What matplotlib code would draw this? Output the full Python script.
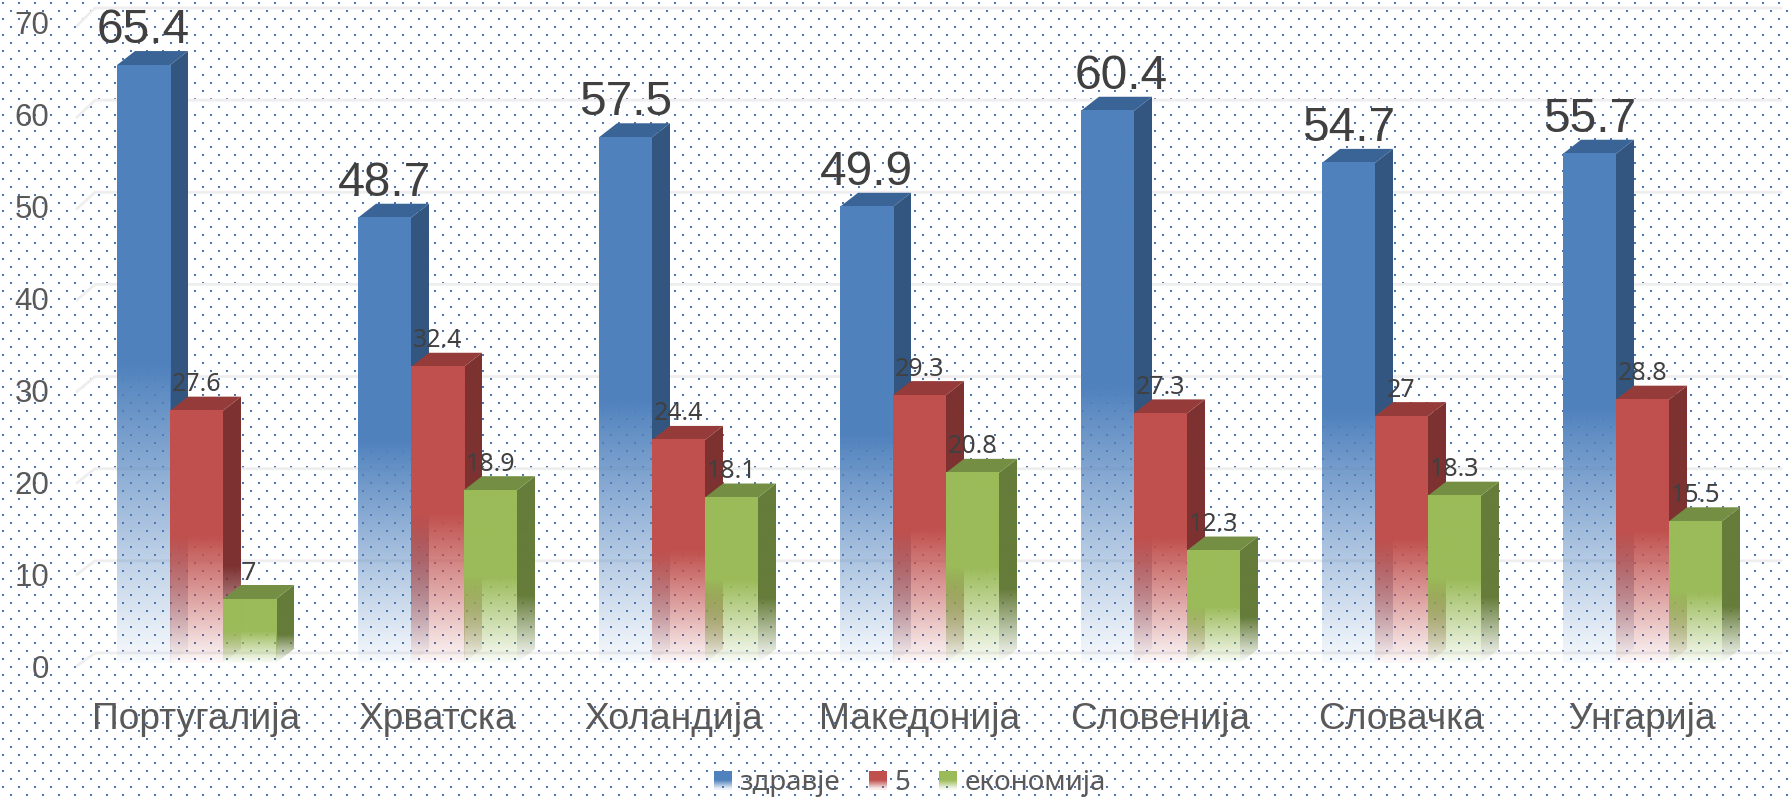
# Grouped pseudo-3D bars with faded bottoms on a dotted background
import numpy as np
import matplotlib
matplotlib.use("Agg")
import matplotlib.pyplot as plt
from matplotlib.colors import to_rgb
from matplotlib.legend_handler import HandlerBase
from matplotlib.patches import Polygon, Rectangle
from matplotlib.transforms import ScaledTranslation

# ------------------------------------------------------------------
# Data
countries = ["Португалија", "Хрватска", "Холандија", "Македонија", "Словенија", "Словачка", "Унгарија"]
zdravje = [65.4, 48.7, 57.5, 49.9, 60.4, 54.7, 55.7]
pet = [27.6, 32.4, 24.4, 29.3, 27.3, 27, 28.8]
ekonomija = [7, 18.9, 18.1, 20.8, 12.3, 18.3, 15.5]
series_names = ["здравје", "5", "економија"]
y_ticks = [0, 10, 20, 30, 40, 50, 60, 70]

# ------------------------------------------------------------------
# Style
W, H = 1788, 798
front_cols = ["#4F81BD", "#C0504D", "#9BBB59"]
side_cols = ["#335680", "#7D3231", "#667C3A"]
top_cols = ["#3A6396", "#953B39", "#748F44"]
label_sizes = [34.5, 18, 18]
bar_w = 53 / 241
depth_x = 18 / 241
depth_y = 14 / 9.14
wall_left = (77 - 196.5) / 241
wall_right = (1781 - 196.5) / 241
# the 60.4 label was moved by hand in the original
label_shift = {(4, 0): 0.058}

fig = plt.figure(figsize=(W / 100, H / 100), dpi=100, facecolor="white")

# dotted background, one tile of 16x16 pixels
tile = np.zeros((16, 16, 4))
tile[2:4, 2:4] = tile[10:12, 10:12] = to_rgb("#4A76B5") + (1,)
dots = np.tile(tile, (H // 16 + 1, W // 16 + 1, 1))[:H, :W]
fig.figimage(dots, 0, 0, zorder=-1, origin="upper")

ax = fig.add_axes([56 / W, 1 - 663 / H, (1781 - 56) / W, 640 / H])
ax.patch.set_visible(False)
for s in ax.spines.values():
    s.set_visible(False)


def fade(n, end, low):
    # opacity from the bottom of a bar up to the point where it is solid
    t = np.linspace(0, 1, n)
    return np.clip(low + (1 - low) * t / end, 0, 1)


def gradient(color, alpha):
    img = np.ones((len(alpha), 1, 4))
    img[:, :, :3] = to_rgb(color)
    img[:, :, 3] = alpha.reshape(-1, 1)
    return img


def draw_bar(i, v, k):
    x0 = i - 1.5 * bar_w + k * bar_w
    x1 = x0 + bar_w
    # side face
    side = Polygon([(x1, 0), (x1 + depth_x, depth_y), (x1 + depth_x, v + depth_y), (x1, v)],
                   transform=ax.transData, fc="none", ec="none")
    ax.add_patch(side)
    im = ax.imshow(gradient(side_cols[k], fade(256, 0.36, 0)), origin="lower", aspect="auto",
                   extent=[x1, x1 + depth_x, 0, v + depth_y], zorder=3 + k)
    im.set_clip_path(side)
    # top face
    ax.add_patch(Polygon([(x0, v), (x1, v), (x1 + depth_x, v + depth_y), (x0 + depth_x, v + depth_y)],
                         fc=top_cols[k], ec="none", zorder=3 + k))
    # front face
    ax.imshow(gradient(front_cols[k], fade(256, 0.5, 0.04)), origin="lower", aspect="auto",
              extent=[x0, x1, 0, v], zorder=3.5 + k)
    ax.text(x0 + bar_w / 2 + label_shift.get((i, k), 0), v + depth_y + (0.9 if k == 0 else 0.6), f"{v:g}",
            ha="center", va="baseline", fontsize=label_sizes[k], color="#404040", zorder=8, clip_on=False,
            family="Liberation Sans" if k == 0 else "Noto Sans")


# back wall grid lines, the wall is drawn a little taller than the bars
for t in y_ticks:
    back = t + 1.1 + 0.0077 * t
    ax.plot([wall_left, wall_left + depth_x, wall_right], [t - 0.3, back, back],
            color="#EEEEEE", lw=2, zorder=1, clip_on=False)

for i in range(len(countries)):
    for k, vals in enumerate([zdravje, pet, ekonomija]):
        draw_bar(i, vals[i], k)

ax.set_xlim((56 - 196.5) / 241, (1781 - 196.5) / 241)
ax.set_ylim(0, 70)
ax.set_xticks(range(len(countries)), countries)
ax.set_yticks(y_ticks)
ax.tick_params(length=0)
ax.tick_params(axis="y", pad=5, labelsize=22.5, labelcolor="#595959")
ax.tick_params(axis="x", pad=28, labelsize=26.7, labelcolor="#595959")
for lab in ax.get_xticklabels() + ax.get_yticklabels():
    lab.set_family("Liberation Sans")
# tick labels sit a little wider apart than the bars scale, 4 px more at the bottom
for t, lab in zip(y_ticks, ax.get_yticklabels()):
    shift = (70 - t) / 70 * 4 / 100
    lab.set_transform(lab.get_transform() + ScaledTranslation(0, -shift, fig.dpi_scale_trans))
lab = ax.get_xticklabels()[2]
lab.set_transform(lab.get_transform() + ScaledTranslation(-5 / 100, 0, fig.dpi_scale_trans))


class FadeHandler(HandlerBase):
    # legend key with the same fade as the bars
    def create_artists(self, legend, orig, xd, yd, width, height, fontsize, trans):
        n = 18
        alpha = fade(n, 0.5, 0.1)
        out = []
        for j in range(n):
            out.append(Rectangle((-xd, -yd + height * j / n), width, height / n, transform=trans,
                                 fc=orig.get_facecolor()[:3], alpha=alpha[j], ec="none", antialiased=False))
        return out


handles = [Rectangle((0, 0), 1, 1, fc=c) for c in front_cols]
ax.legend(handles, series_names, loc="center", bbox_to_anchor=(910 / W, 1 - 783 / H),
          bbox_transform=fig.transFigure, ncol=3, frameon=False,
          prop={"family": "Noto Sans", "size": 20}, labelcolor="#595959",
          handler_map={h: FadeHandler() for h in handles},
          handlelength=0.65, handleheight=0.65, handletextpad=0.25, columnspacing=1.05)

fig.savefig("out.png", dpi=100)
